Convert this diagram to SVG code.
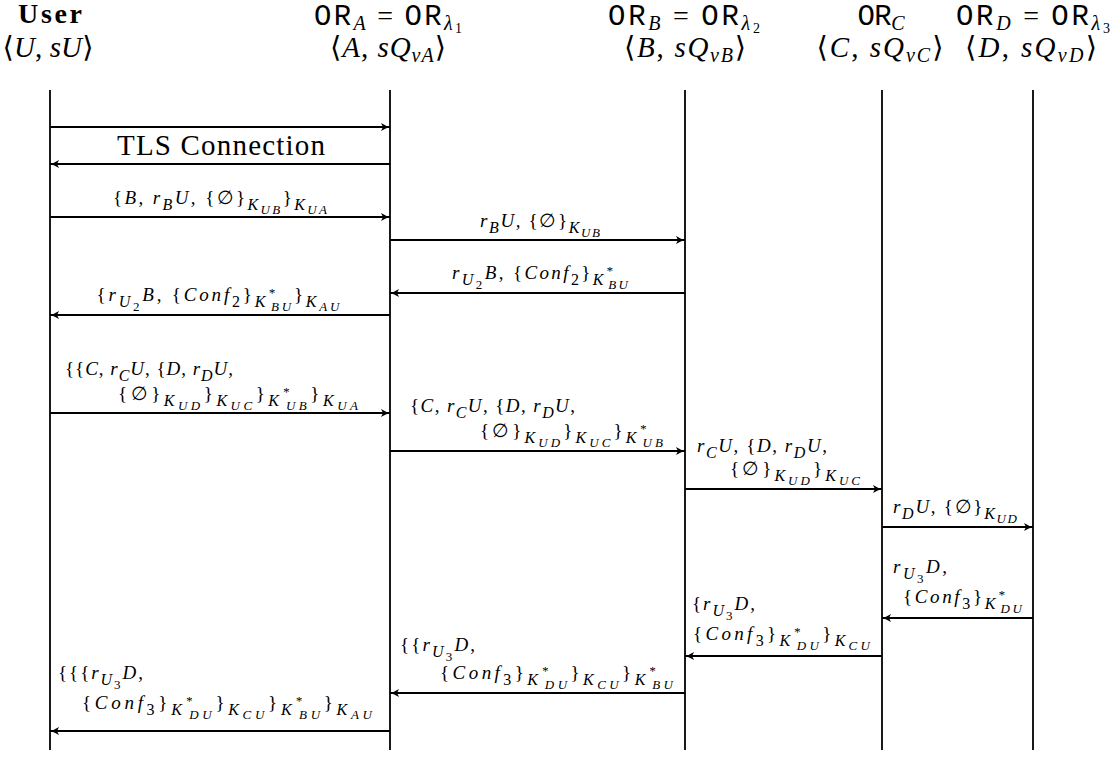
<svg xmlns="http://www.w3.org/2000/svg" width="1118" height="757" viewBox="0 0 1118 757" font-family="Liberation Serif, DejaVu Serif, Noto Serif, Times New Roman, serif">
<style>
.hd{font-family:"Liberation Serif","DejaVu Serif","Noto Serif","Times New Roman",serif;fill:#000}
.tt{font-family:"Liberation Mono","DejaVu Sans Mono",monospace;font-style:normal}
.it{font-style:italic}
.m{font-family:"Liberation Serif","DejaVu Serif","Noto Serif","Times New Roman",serif;font-size:19px;font-style:italic;fill:#000}
.u{font-style:normal}
.s{font-size:16px}
.ss{font-size:13px}
.life{stroke:#000;stroke-width:1.8;fill:none}
.arr{stroke:#000;stroke-width:1.8;fill:none;marker-end:url(#ah)}
</style>
<defs>
<marker id="ah" viewBox="-10 -5 11 10" refX="0" refY="0" markerWidth="11" markerHeight="10" markerUnits="userSpaceOnUse" orient="auto">
<path d="M-9,-4 Q-4,-0.8 0,0 Q-4,0.8 -9,4 L-7,0 Z" fill="#000"/>
</marker>
</defs>
<rect width="1118" height="757" fill="#fff"/>

<g id="user">
<text class="hd" x="50" y="23" text-anchor="middle" font-size="28" font-weight="bold" textLength="64" lengthAdjust="spacing">User</text>
<text class="hd" x="48" y="57" text-anchor="middle" font-size="29" textLength="91" lengthAdjust="spacing">⟨<tspan class="it">U</tspan>, <tspan class="it">sU</tspan>⟩</text>
<line class="life" x1="50" y1="90" x2="50" y2="750"/>
</g>

<g id="orA">
<text class="hd" x="388" y="25" text-anchor="middle" font-size="28" textLength="148" lengthAdjust="spacing"><tspan class="tt" font-size="29">OR</tspan><tspan class="it" font-size="20" dy="5">A</tspan><tspan dy="-5"> = </tspan><tspan class="tt" font-size="29">OR</tspan><tspan class="it" font-size="20" dy="5">λ</tspan><tspan font-size="14" dy="3">1</tspan></text>
<text class="hd" x="388" y="57" text-anchor="middle" font-size="29" textLength="116" lengthAdjust="spacing">⟨<tspan class="it">A</tspan>, <tspan class="it">sQ</tspan><tspan class="it" font-size="20" dy="5">vA</tspan><tspan dy="-5">⟩</tspan></text>
<line class="life" x1="390" y1="90" x2="390" y2="750"/>
</g>

<g id="orB">
<text class="hd" x="684" y="25" text-anchor="middle" font-size="28" textLength="152" lengthAdjust="spacing"><tspan class="tt" font-size="29">OR</tspan><tspan class="it" font-size="20" dy="5">B</tspan><tspan dy="-5"> = </tspan><tspan class="tt" font-size="29">OR</tspan><tspan class="it" font-size="20" dy="5">λ</tspan><tspan font-size="14" dy="3">2</tspan></text>
<text class="hd" x="685" y="57" text-anchor="middle" font-size="29" textLength="122" lengthAdjust="spacing">⟨<tspan class="it">B</tspan>, <tspan class="it">sQ</tspan><tspan class="it" font-size="20" dy="5">vB</tspan><tspan dy="-5">⟩</tspan></text>
<line class="life" x1="685" y1="90" x2="685" y2="750"/>
</g>

<g id="orC">
<text class="hd" x="881" y="25" text-anchor="middle" font-size="28" textLength="47" lengthAdjust="spacing"><tspan class="tt" font-size="29">OR</tspan><tspan class="it" font-size="20" dy="5">C</tspan></text>
<text class="hd" x="880" y="57" text-anchor="middle" font-size="29" textLength="127" lengthAdjust="spacing">⟨<tspan class="it">C</tspan>, <tspan class="it">sQ</tspan><tspan class="it" font-size="20" dy="5">vC</tspan><tspan dy="-5">⟩</tspan></text>
<line class="life" x1="882" y1="90" x2="882" y2="750"/>
</g>

<g id="orD">
<text class="hd" x="1033" y="25" text-anchor="middle" font-size="28" textLength="154" lengthAdjust="spacing"><tspan class="tt" font-size="29">OR</tspan><tspan class="it" font-size="20" dy="5">D</tspan><tspan dy="-5"> = </tspan><tspan class="tt" font-size="29">OR</tspan><tspan class="it" font-size="20" dy="5">λ</tspan><tspan font-size="14" dy="3">3</tspan></text>
<text class="hd" x="1031" y="57" text-anchor="middle" font-size="29" textLength="132" lengthAdjust="spacing">⟨<tspan class="it">D</tspan>, <tspan class="it">sQ</tspan><tspan class="it" font-size="20" dy="5">vD</tspan><tspan dy="-5">⟩</tspan></text>
<line class="life" x1="1033" y1="90" x2="1033" y2="750"/>
</g>

<g id="connectors">
<line class="arr" x1="50" y1="127" x2="390" y2="127"/>
<line class="arr" x1="390" y1="164" x2="50" y2="164"/>
<text class="hd" x="221" y="155" text-anchor="middle" font-size="29" textLength="208" lengthAdjust="spacing">TLS Connection</text>

<line class="arr" x1="50" y1="217" x2="390" y2="217"/>
<text class="m" x="220" y="204" text-anchor="middle" textLength="214" lengthAdjust="spacing"><tspan class="u">{</tspan>B<tspan class="u">, </tspan>r<tspan class="s" dy="5.5">B</tspan><tspan dy="-5.5">U</tspan><tspan class="u">, {∅}</tspan><tspan class="s" dy="5.5">K</tspan><tspan class="ss" dy="4.5">UB</tspan><tspan class="u" dy="-10">}</tspan><tspan class="s" dy="5.5">K</tspan><tspan class="ss" dy="4.5">UA</tspan></text>

<line class="arr" x1="390" y1="240" x2="685" y2="240"/>
<text class="m" x="540" y="227" text-anchor="middle" textLength="120" lengthAdjust="spacing">r<tspan class="s" dy="5.5">B</tspan><tspan dy="-5.5">U</tspan><tspan class="u">, {∅}</tspan><tspan class="s" dy="5.5">K</tspan><tspan class="ss" dy="4.5">UB</tspan></text>

<line class="arr" x1="685" y1="293" x2="390" y2="293"/>
<text class="m" x="540" y="279" text-anchor="middle" textLength="176" lengthAdjust="spacing">r<tspan class="s" dy="5.5">U</tspan><tspan class="ss u" dy="4.5">2</tspan><tspan dy="-10">B</tspan><tspan class="u">, {</tspan>Conf<tspan class="s u" dy="5.5">2</tspan><tspan class="u" dy="-5.5">}</tspan><tspan class="s" dy="5.5">K</tspan><tspan class="ss" dy="-9.5">*</tspan><tspan class="ss" dx="-6.5" dy="14">BU</tspan></text>

<line class="arr" x1="390" y1="315" x2="50" y2="315"/>
<text class="m" x="218" y="301" text-anchor="middle" textLength="243" lengthAdjust="spacing"><tspan class="u">{</tspan>r<tspan class="s" dy="5.5">U</tspan><tspan class="ss u" dy="4.5">2</tspan><tspan dy="-10">B</tspan><tspan class="u">, {</tspan>Conf<tspan class="s u" dy="5.5">2</tspan><tspan class="u" dy="-5.5">}</tspan><tspan class="s" dy="5.5">K</tspan><tspan class="ss" dy="-9.5">*</tspan><tspan class="ss" dx="-6.5" dy="14">BU</tspan><tspan class="u" dy="-10">}</tspan><tspan class="s" dy="5.5">K</tspan><tspan class="ss" dy="4.5">AU</tspan></text>

<line class="arr" x1="50" y1="413" x2="390" y2="413"/>
<text class="m" x="65" y="375" textLength="168" lengthAdjust="spacing"><tspan class="u">{{</tspan>C<tspan class="u">, </tspan>r<tspan class="s" dy="5.5">C</tspan><tspan dy="-5.5">U</tspan><tspan class="u">, {</tspan>D<tspan class="u">, </tspan>r<tspan class="s" dy="5.5">D</tspan><tspan dy="-5.5">U</tspan><tspan class="u">,</tspan></text>
<text class="m" x="118" y="400" textLength="240" lengthAdjust="spacing"><tspan class="u">{∅}</tspan><tspan class="s" dy="5.5">K</tspan><tspan class="ss" dy="4.5">UD</tspan><tspan class="u" dy="-10">}</tspan><tspan class="s" dy="5.5">K</tspan><tspan class="ss" dy="4.5">UC</tspan><tspan class="u" dy="-10">}</tspan><tspan class="s" dy="5.5">K</tspan><tspan class="ss" dy="-9.5">*</tspan><tspan class="ss" dx="-6.5" dy="14">UB</tspan><tspan class="u" dy="-10">}</tspan><tspan class="s" dy="5.5">K</tspan><tspan class="ss" dy="4.5">UA</tspan></text>

<line class="arr" x1="390" y1="451" x2="685" y2="451"/>
<text class="m" x="410" y="412" textLength="165" lengthAdjust="spacing"><tspan class="u">{</tspan>C<tspan class="u">, </tspan>r<tspan class="s" dy="5.5">C</tspan><tspan dy="-5.5">U</tspan><tspan class="u">, {</tspan>D<tspan class="u">, </tspan>r<tspan class="s" dy="5.5">D</tspan><tspan dy="-5.5">U</tspan><tspan class="u">,</tspan></text>
<text class="m" x="480" y="437" textLength="183" lengthAdjust="spacing"><tspan class="u">{∅}</tspan><tspan class="s" dy="5.5">K</tspan><tspan class="ss" dy="4.5">UD</tspan><tspan class="u" dy="-10">}</tspan><tspan class="s" dy="5.5">K</tspan><tspan class="ss" dy="4.5">UC</tspan><tspan class="u" dy="-10">}</tspan><tspan class="s" dy="5.5">K</tspan><tspan class="ss" dy="-9.5">*</tspan><tspan class="ss" dx="-6.5" dy="14">UB</tspan></text>

<line class="arr" x1="685" y1="489" x2="882" y2="489"/>
<text class="m" x="697" y="452" textLength="130" lengthAdjust="spacing">r<tspan class="s" dy="5.5">C</tspan><tspan dy="-5.5">U</tspan><tspan class="u">, {</tspan>D<tspan class="u">, </tspan>r<tspan class="s" dy="5.5">D</tspan><tspan dy="-5.5">U</tspan><tspan class="u">,</tspan></text>
<text class="m" x="730" y="475" textLength="130" lengthAdjust="spacing"><tspan class="u">{∅}</tspan><tspan class="s" dy="5.5">K</tspan><tspan class="ss" dy="4.5">UD</tspan><tspan class="u" dy="-10">}</tspan><tspan class="s" dy="5.5">K</tspan><tspan class="ss" dy="4.5">UC</tspan></text>

<line class="arr" x1="882" y1="527" x2="1033" y2="527"/>
<text class="m" x="955" y="513" text-anchor="middle" textLength="124" lengthAdjust="spacing">r<tspan class="s" dy="5.5">D</tspan><tspan dy="-5.5">U</tspan><tspan class="u">, {∅}</tspan><tspan class="s" dy="5.5">K</tspan><tspan class="ss" dy="4.5">UD</tspan></text>

<line class="arr" x1="1033" y1="618" x2="882" y2="618"/>
<text class="m" x="893" y="573" textLength="54" lengthAdjust="spacing">r<tspan class="s" dy="5.5">U</tspan><tspan class="ss u" dy="4.5">3</tspan><tspan dy="-10">D</tspan><tspan class="u">,</tspan></text>
<text class="m" x="903" y="603" textLength="119" lengthAdjust="spacing"><tspan class="u">{</tspan>Conf<tspan class="s u" dy="5.5">3</tspan><tspan class="u" dy="-5.5">}</tspan><tspan class="s" dy="5.5">K</tspan><tspan class="ss" dy="-9.5">*</tspan><tspan class="ss" dx="-6.5" dy="14">DU</tspan></text>

<line class="arr" x1="882" y1="656" x2="685" y2="656"/>
<text class="m" x="692" y="610" textLength="63" lengthAdjust="spacing"><tspan class="u">{</tspan>r<tspan class="s" dy="5.5">U</tspan><tspan class="ss u" dy="4.5">3</tspan><tspan dy="-10">D</tspan><tspan class="u">,</tspan></text>
<text class="m" x="693" y="640" textLength="177" lengthAdjust="spacing"><tspan class="u">{</tspan>Conf<tspan class="s u" dy="5.5">3</tspan><tspan class="u" dy="-5.5">}</tspan><tspan class="s" dy="5.5">K</tspan><tspan class="ss" dy="-9.5">*</tspan><tspan class="ss" dx="-6.5" dy="14">DU</tspan><tspan class="u" dy="-10">}</tspan><tspan class="s" dy="5.5">K</tspan><tspan class="ss" dy="4.5">CU</tspan></text>

<line class="arr" x1="685" y1="693" x2="390" y2="693"/>
<text class="m" x="400" y="651" textLength="75" lengthAdjust="spacing"><tspan class="u">{{</tspan>r<tspan class="s" dy="5.5">U</tspan><tspan class="ss u" dy="4.5">3</tspan><tspan dy="-10">D</tspan><tspan class="u">,</tspan></text>
<text class="m" x="440" y="679" textLength="233" lengthAdjust="spacing"><tspan class="u">{</tspan>Conf<tspan class="s u" dy="5.5">3</tspan><tspan class="u" dy="-5.5">}</tspan><tspan class="s" dy="5.5">K</tspan><tspan class="ss" dy="-9.5">*</tspan><tspan class="ss" dx="-6.5" dy="14">DU</tspan><tspan class="u" dy="-10">}</tspan><tspan class="s" dy="5.5">K</tspan><tspan class="ss" dy="4.5">CU</tspan><tspan class="u" dy="-10">}</tspan><tspan class="s" dy="5.5">K</tspan><tspan class="ss" dy="-9.5">*</tspan><tspan class="ss" dx="-6.5" dy="14">BU</tspan></text>

<line class="arr" x1="390" y1="731" x2="50" y2="731"/>
<text class="m" x="58" y="679" textLength="85" lengthAdjust="spacing"><tspan class="u">{{{</tspan>r<tspan class="s" dy="5.5">U</tspan><tspan class="ss u" dy="4.5">3</tspan><tspan dy="-10">D</tspan><tspan class="u">,</tspan></text>
<text class="m" x="82" y="709" textLength="290" lengthAdjust="spacing"><tspan class="u">{</tspan>Conf<tspan class="s u" dy="5.5">3</tspan><tspan class="u" dy="-5.5">}</tspan><tspan class="s" dy="5.5">K</tspan><tspan class="ss" dy="-9.5">*</tspan><tspan class="ss" dx="-6.5" dy="14">DU</tspan><tspan class="u" dy="-10">}</tspan><tspan class="s" dy="5.5">K</tspan><tspan class="ss" dy="4.5">CU</tspan><tspan class="u" dy="-10">}</tspan><tspan class="s" dy="5.5">K</tspan><tspan class="ss" dy="-9.5">*</tspan><tspan class="ss" dx="-6.5" dy="14">BU</tspan><tspan class="u" dy="-10">}</tspan><tspan class="s" dy="5.5">K</tspan><tspan class="ss" dy="4.5">AU</tspan></text>
</g>
</svg>
